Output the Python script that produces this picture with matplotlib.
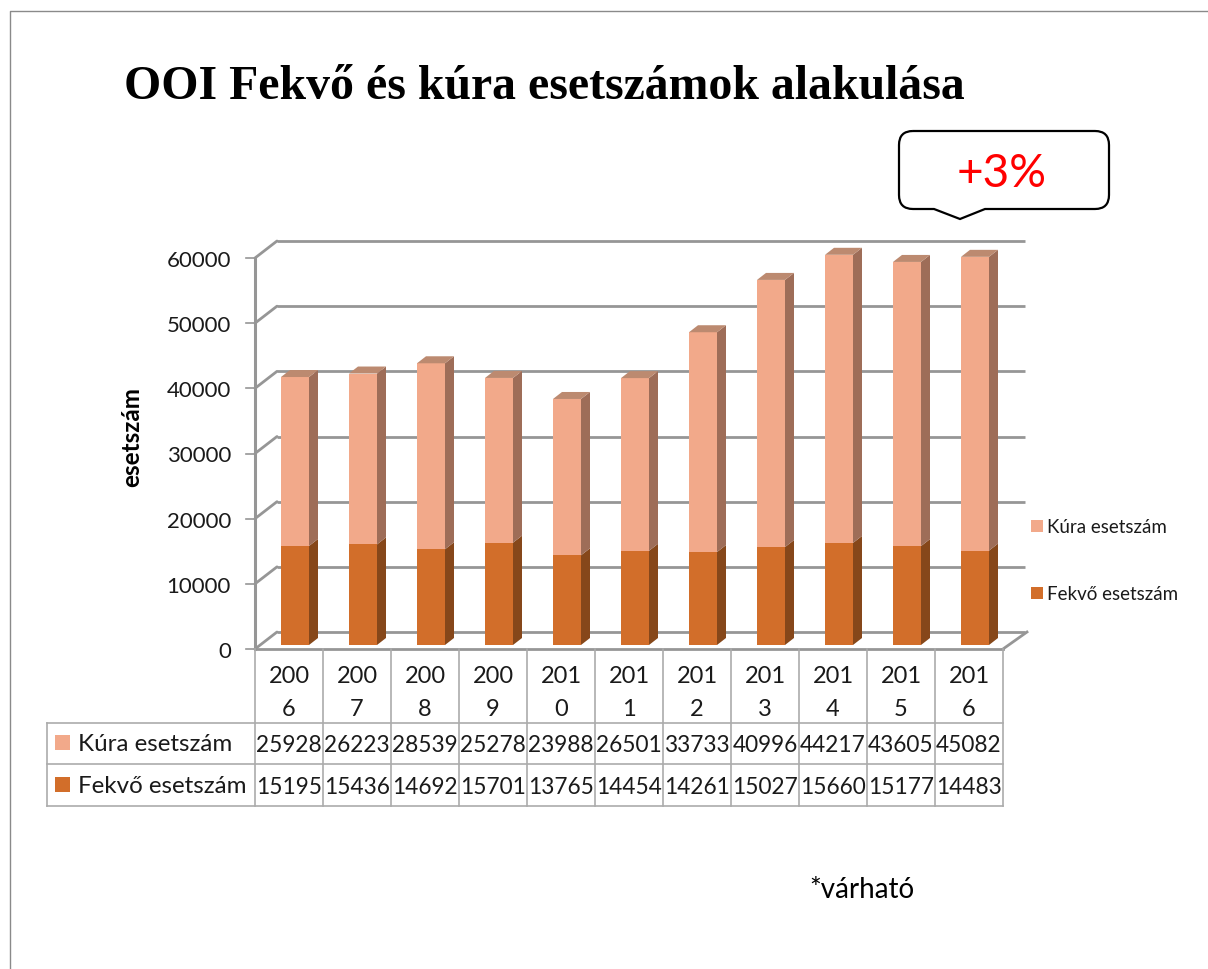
import matplotlib
matplotlib.use("Agg")
import matplotlib.pyplot as plt
from matplotlib.patches import PathPatch, Polygon, Rectangle
from matplotlib.path import Path
from matplotlib.transforms import Affine2D, IdentityTransform
import numpy as np

W, H = 1208, 970

years = ["2006", "2007", "2008", "2009", "2010", "2011", "2012", "2013", "2014", "2015", "2016"]
kura = [25928, 26223, 28539, 25278, 23988, 26501, 33733, 40996, 44217, 43605, 45082]
fekvo = [15195, 15436, 14692, 15701, 13765, 14454, 14261, 15027, 15660, 15177, 14483]
y_ticks = [0, 10000, 20000, 30000, 40000, 50000, 60000]
series_names = ["Kúra esetszám", "Fekvő esetszám"]

KURA_C = "#F2A98A"
KURA_SIDE = "#9E6D58"
KURA_TOP = "#BC8A70"
FEKVO_C = "#D26E2A"
FEKVO_SIDE = "#86471A"
GRID_C = "#969696"
TABLE_C = "#ABABAB"
TXT = "#1A1A1A"
FONT = "Lato"

# plot area of the front plane, in pixels
X0, X1 = 255, 1003
Y_ZERO, Y_TOP = 650, 259
SLOT = (X1 - X0) / len(years)

fig = plt.figure(figsize=(W / 100, H / 100), dpi=100, facecolor="white")

# overlay in pixel coordinates for frame, table and annotations
bg = fig.add_axes([0, 0, 1, 1])
bg.set_xlim(0, W)
bg.set_ylim(H, 0)
bg.axis("off")

ax = fig.add_axes([X0 / W, 1 - Y_ZERO / H, (X1 - X0) / W, (Y_ZERO - Y_TOP) / H])
ax.patch.set_alpha(0)
ax.set_xlim(-0.5, len(years) - 0.5)
ax.set_ylim(0, 60000)
ax.axis("off")

# pixel shifts for the fake 3D look
back = ax.transData + Affine2D().translate(22, 17)
bar_front = ax.transData + Affine2D().translate(6, 4)
DX, DY = 9, 7
BAR_W = 28 / SLOT

# back wall and left wall
ax.hlines(y_ticks, -0.5, len(years) - 0.5, color=GRID_C, lw=2, transform=back, clip_on=False, zorder=1)
for t in y_ticks:
    p0 = ax.transData.transform((-0.5, t))
    bg.plot([p0[0], p0[0] + 22], [H - p0[1], H - p0[1] - 17], color=GRID_C, lw=2, solid_capstyle="round")
    bg.plot([p0[0] - 9, p0[0]], [H - p0[1], H - p0[1]], color=GRID_C, lw=1.2)
    bg.text(231, H - p0[1] + 2, str(t), ha="right", va="center", fontsize=16, family=FONT, color=TXT)
bg.plot([X0, X0], [Y_TOP, Y_ZERO], color=GRID_C, lw=2.2)
bg.plot([X1, X1 + 24], [Y_ZERO, Y_ZERO - 17], color=GRID_C, lw=2)


def draw_bar(i, low, high, front, side, top=None):
    ax.bar(i, high - low, bottom=low, width=BAR_W, color=front, transform=bar_front, zorder=3, clip_on=False)
    (xl, yl), (xr, yh) = bar_front.transform([(i - BAR_W / 2, low), (i + BAR_W / 2, high)])
    ax.add_patch(Polygon([(xr, yl), (xr + DX, yl + DY), (xr + DX, yh + DY), (xr, yh)], closed=True,
                         fc=side, ec="none", transform=IdentityTransform(), zorder=3, clip_on=False))
    if top is not None:
        ax.add_patch(Polygon([(xl, yh), (xl + DX, yh + DY), (xr + DX, yh + DY), (xr, yh)], closed=True,
                             fc=top, ec="none", transform=IdentityTransform(), zorder=3, clip_on=False))


for i in range(len(years)):
    draw_bar(i, 0, fekvo[i], FEKVO_C, FEKVO_SIDE)
    draw_bar(i, fekvo[i], fekvo[i] + kura[i], KURA_C, KURA_SIDE, KURA_TOP)

# data table
ROW_Y = [650, 724, 765, 807]
TABLE_L = 47
bg.plot([X0, X1], [ROW_Y[0], ROW_Y[0]], color=GRID_C, lw=2)
for y in ROW_Y[1:]:
    bg.plot([TABLE_L, X1], [y, y], color=TABLE_C, lw=1.2)
bg.plot([TABLE_L, TABLE_L], [ROW_Y[1], ROW_Y[3]], color=TABLE_C, lw=1.2)
for i in range(len(years) + 1):
    x = X0 + i * SLOT
    bg.plot([x, x], [ROW_Y[0], ROW_Y[3]], color=TABLE_C, lw=1.2)

for i, year in enumerate(years):
    cx = X0 + (i + 0.5) * SLOT
    bg.text(cx, 677, year[:3], ha="center", va="center", fontsize=17, family=FONT, color=TXT)
    bg.text(cx, 710, year[3:], ha="center", va="center", fontsize=17, family=FONT, color=TXT)
    bg.text(cx, 746, str(kura[i]), ha="center", va="center", fontsize=16.3, family=FONT, color=TXT)
    bg.text(cx, 788, str(fekvo[i]), ha="center", va="center", fontsize=16.3, family=FONT, color=TXT)

for name, color, y in zip(series_names, [KURA_C, FEKVO_C], [744, 786]):
    bg.add_patch(Rectangle((55, y - 8), 15, 15, fc=color, ec="none"))
    bg.text(78, y + 1, name, ha="left", va="center", fontsize=17.4, family=FONT, color=TXT)

# legend
for name, color, y in zip(series_names, [KURA_C, FEKVO_C], [527, 594]):
    bg.add_patch(Rectangle((1031, y - 6), 12, 12, fc=color, ec="none"))
    bg.text(1047, y + 1, name, ha="left", va="center", fontsize=13.5, family=FONT, color=TXT)

# frame of the slide
bg.plot([10, 10, W], [H, 12, 12], color="#8A8A8A", lw=1)

bg.text(124, 87, "OOI Fekvő és kúra esetszámok alakulása", ha="left", va="center", fontsize=34.4,
        family="Liberation Serif", weight="bold", color="black")
bg.text(132, 437, "esetszám", rotation=90, ha="center", va="center", fontsize=17.5, family=FONT,
        weight="bold", color="black")
bg.text(809, 890, "*várható", ha="left", va="center", fontsize=20, family=FONT, color="black")

# callout
L, R, T, B, r = 899, 1109, 132, 210, 14
verts = [(L + r, T), (R - r, T), (R, T), (R, T + r), (R, B - r), (R, B), (R - r, B),
         (985, B), (960, 220), (934, B), (L + r, B), (L, B), (L, B - r), (L, T + r), (L, T), (L + r, T)]
codes = [Path.MOVETO, Path.LINETO, Path.CURVE3, Path.CURVE3, Path.LINETO, Path.CURVE3, Path.CURVE3,
         Path.LINETO, Path.LINETO, Path.LINETO, Path.LINETO, Path.CURVE3, Path.CURVE3, Path.LINETO,
         Path.CURVE3, Path.CURVE3]
bg.add_patch(PathPatch(Path(verts, codes), fc="white", ec="black", lw=1.6, zorder=5))
bg.text(1002, 174, "+3%", ha="center", va="center", fontsize=33, family=FONT, color="#FF0000", zorder=6)

fig.savefig("out.png", dpi=100)
